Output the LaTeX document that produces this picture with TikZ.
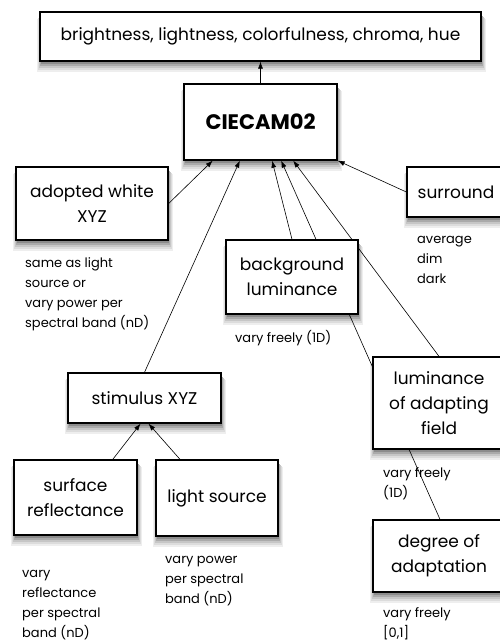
\documentclass[tikz,border=0pt]{standalone}
\usepackage{fontspec}
\setmainfont{Poppins}
\usetikzlibrary{arrows.meta,calc}
\definecolor{shA}{RGB}{238,238,238}
\definecolor{shB}{RGB}{220,220,220}
\definecolor{shC}{RGB}{198,198,198}
\definecolor{shD}{RGB}{170,170,170}
\definecolor{shE}{RGB}{140,140,140}
\pgfdeclarelayer{lines}
\pgfdeclarelayer{boxes}
\pgfsetlayers{main,lines,boxes}
\newcommand\shadowat[4]{%
  \fill[shA] (#1-3,#2+7) rectangle (#3+5,#4+11);
  \fill[shB] (#1-2,#2+6) rectangle (#3+4,#4+9);
  \fill[shC] (#1-1,#2+5) rectangle (#3+3,#4+7);
  \fill[shD] (#1,#2+4) rectangle (#3+2,#4+5);
  \fill[shE] (#1+1,#2+3) rectangle (#3+1,#4+3);}
\begin{document}
\begin{tikzpicture}[x=1pt,y=-1pt,
  box/.style={draw=black, line width=1.3pt, fill=white, inner sep=0pt, align=center,
    font=\fontsize{17}{25}\selectfont},
  note/.style={anchor=base west, align=left, inner sep=0pt, font=\fontsize{13}{20}\selectfont},
  arr/.style={-{Latex[length=7pt,width=5pt]}, line width=0.6pt}]
\fill[white] (0,0) rectangle (500,641);
\useasboundingbox (0,0) rectangle (500,641);
\shadowat{40}{12}{481}{61}
\shadowat{184}{84}{337}{160}
\shadowat{16}{167}{168}{240}
\shadowat{407}{167}{505}{217}
\shadowat{226}{240}{358}{314}
\shadowat{373}{357}{505}{449}
\shadowat{373}{520}{505}{592}
\shadowat{68}{373}{221}{423}
\shadowat{14}{460}{137}{535}
\shadowat{156}{460}{278}{536}
\begin{pgfonlayer}{boxes}
\node[box, minimum width=441pt, minimum height=49pt] (top) at (260.5,36.5) {brightness, lightness, colorfulness, chroma, hue};
\node[box, minimum width=153pt, minimum height=76pt, font=\fontsize{21}{25}\selectfont\bfseries] (ciecam) at (260.5,122) {CIECAM02};
\node[box, minimum width=152pt, minimum height=73pt] (white) at (92,203.5) {adopted white\\XYZ};
\node[box, minimum width=98pt, minimum height=50pt] (surround) at (456,192) {surround};
\node[box, minimum width=132pt, minimum height=74pt] (bgl) at (292,277) {background\\luminance};
\node[box, minimum width=132pt, minimum height=92pt] (lum) at (439,403) {luminance\\of adapting\\field};
\node[box, minimum width=132pt, minimum height=72pt] (degree) at (439,556) {degree of\\adaptation};
\node[box, minimum width=153pt, minimum height=50pt] (stim) at (144.5,398) {stimulus XYZ};
\node[box, minimum width=123pt, minimum height=75pt] (surf) at (75.5,497.5) {surface\\reflectance};
\node[box, minimum width=122pt, minimum height=76pt] (light) at (217,498) {light source};
\end{pgfonlayer}

\node[note] (nwhite) at (25,327) {same as light\\source or\\vary power per\\spectral band (nD)};
\node[note] (nsur) at (417,283) {average\\dim\\dark};
\node[note] (nbgl) at (235,342) {vary freely (1D)};
\node[note] (nlum) at (383,497) {vary freely\\(1D)};
\node[note] (ndeg) at (383,637) {vary freely\\{[0,1]}};
\node[note] (nlight) at (165,603) {vary power\\per spectral\\band (nD)};
\node[note] (nsurf) at (22,637) {vary\\reflectance\\per spectral\\band (nD)};

\begin{pgfonlayer}{lines}
\draw[arr] (ciecam.north) -- (top.south);
\draw[arr] (white.east) -- ($(ciecam.south west)!0.19!(ciecam.south east)$);
\draw[arr] (stim.north) -- ($(ciecam.south west)!0.366!(ciecam.south east)$);
\draw[arr] (bgl.north) -- ($(ciecam.south west)!0.575!(ciecam.south east)$);
\draw[arr] ($(degree.north)+(1,0)$) -- ($(ciecam.south west)!0.634!(ciecam.south east)$);
\draw[arr] (lum.north) -- ($(ciecam.south west)!0.712!(ciecam.south east)$);
\draw[arr] (surround.west) -- (ciecam.south east);
\draw[arr] ($(surf.north west)!0.8!(surf.north east)$) -- ($(stim.south)+(-4,0)$);
\draw[arr] ($(light.north west)!0.2!(light.north east)$) -- ($(stim.south)+(4,0)$);
\end{pgfonlayer}
\end{tikzpicture}
\end{document}
